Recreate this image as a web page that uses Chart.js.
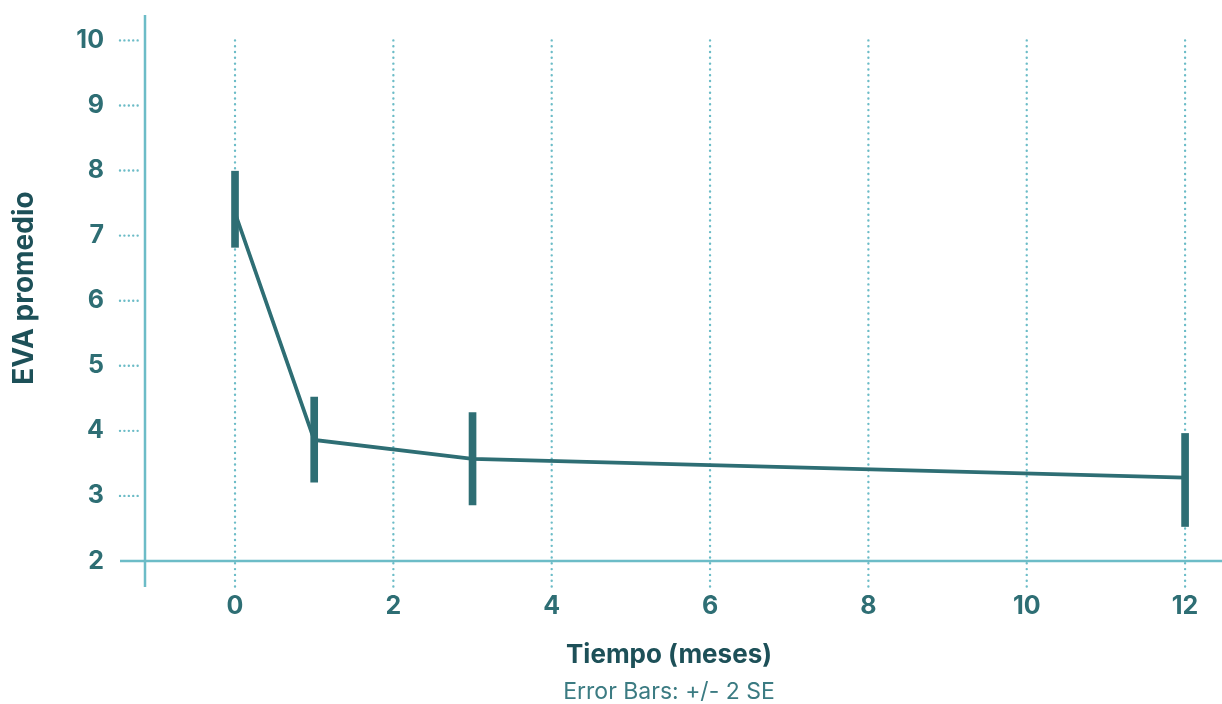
<!DOCTYPE html>
<html>
<head>
<meta charset="utf-8">
<script src="https://cdn.jsdelivr.net/npm/chart.js@4"></script>
<style>
  html, body { margin: 0; padding: 0; background: #fff; }
  #wrap { width: 1222px; height: 704px; position: relative; }
</style>
</head>
<body>
<div id="wrap"><canvas id="chart"></canvas></div>
<script>
// months after treatment and mean EVA score with +/- 2 SE limits
const months = [0, 1, 3, 12];
const evaMean = [7.35, 3.86, 3.57, 3.28];
const evaLow = [6.82, 3.21, 2.86, 2.53];
const evaHigh = [7.99, 4.52, 4.28, 3.96];

const xTicks = [0, 2, 4, 6, 8, 10, 12];
const yTicks = [2, 3, 4, 5, 6, 7, 8, 9, 10];

const DARK = '#2e6e74';
const LIGHT = '#6cbcc7';
const TITLE = '#1d5058';
const FONT = 'Inter, Roboto, sans-serif';

Chart.defaults.font.family = FONT;

// dotted grid, axis lines and caption
const axisDecor = {
    id: 'axisDecor',
    beforeDatasetsDraw(chart) {
        const ctx = chart.ctx;
        const x = chart.scales.x;
        const y = chart.scales.y;
        const area = chart.chartArea;
        const yBase = y.getPixelForValue(2);
        const yTop = y.getPixelForValue(10);
        const below = area.bottom + 26;
        const tickStart = area.left - 25;

        ctx.save();
        ctx.strokeStyle = LIGHT;
        ctx.lineWidth = 2.4;
        ctx.lineCap = 'round';
        ctx.setLineDash([0.01, 5.8]);
        xTicks.forEach(v => {
            const px = x.getPixelForValue(v);
            ctx.beginPath();
            ctx.moveTo(px, yTop);
            ctx.lineTo(px, below);
            ctx.stroke();
        });
        ctx.setLineDash([0.01, 4.4]);
        yTicks.slice(1).forEach(v => {
            const py = y.getPixelForValue(v);
            ctx.beginPath();
            ctx.moveTo(tickStart, py);
            ctx.lineTo(area.left - 3, py);
            ctx.stroke();
        });

        ctx.setLineDash([]);
        ctx.lineCap = 'butt';
        ctx.lineWidth = 2.5;
        ctx.beginPath();
        ctx.moveTo(area.left, area.top);
        ctx.lineTo(area.left, below);
        ctx.moveTo(tickStart, yBase);
        ctx.lineTo(chart.width, yBase);
        ctx.stroke();
        ctx.restore();
    },
    afterDraw(chart) {
        const ctx = chart.ctx;
        const area = chart.chartArea;
        ctx.save();
        ctx.fillStyle = '#3b7b82';
        ctx.font = '23px ' + FONT;
        ctx.textAlign = 'center';
        ctx.textBaseline = 'middle';
        ctx.fillText('Error Bars: +/- 2 SE', (area.left + area.right) / 2, 692);
        ctx.restore();
    }
};

new Chart(document.getElementById('chart'), {
    type: 'line',
    data: {
        datasets: [
            {
                type: 'line',
                data: months.map((m, i) => ({ x: m, y: evaMean[i] })),
                borderColor: DARK,
                borderWidth: 3.7,
                pointRadius: 0,
                tension: 0,
                order: 2
            },
            {
                type: 'bar',
                data: months.map((m, i) => ({ x: m, y: [evaLow[i], evaHigh[i]] })),
                backgroundColor: DARK,
                borderWidth: 0,
                barThickness: 7,
                order: 1
            }
        ]
    },
    options: {
        responsive: true,
        maintainAspectRatio: false,
        animation: false,
        layout: { padding: { top: 12, right: 29, left: 0, bottom: 0 } },
        plugins: {
            legend: { display: false },
            tooltip: { enabled: false }
        },
        scales: {
            x: {
                type: 'linear',
                min: -1.137,
                max: 12.1,
                offset: false,
                grid: { display: true, drawOnChartArea: false, drawTicks: true, tickLength: 30, tickColor: 'rgba(0,0,0,0)' },
                border: { display: false },
                afterBuildTicks: s => { s.ticks = xTicks.map(v => ({ value: v })); },
                afterFit: s => { s.height = 143; },
                ticks: {
                    color: DARK,
                    padding: 0,
                    maxRotation: 0,
                    font: { size: 25, weight: 'bold' }
                },
                title: {
                    display: true,
                    text: 'Tiempo (meses)',
                    color: TITLE,
                    font: { size: 26, weight: 'bold' },
                    padding: { top: 0, bottom: 33 }
                }
            },
            y: {
                min: 2,
                max: 10.39,
                grid: { display: true, drawOnChartArea: false, drawTicks: true, tickLength: 41, tickColor: 'rgba(0,0,0,0)' },
                border: { display: false },
                afterBuildTicks: s => { s.ticks = yTicks.map(v => ({ value: v })); },
                afterFit: s => { s.width = 145; },
                ticks: {
                    color: DARK,
                    padding: 0,
                    font: { size: 25, weight: 'bold' }
                },
                title: {
                    display: true,
                    text: 'EVA promedio',
                    color: TITLE,
                    font: { size: 28, weight: 'bold' },
                    padding: { top: 8, bottom: 0 }
                }
            }
        }
    },
    plugins: [axisDecor]
});
</script>
</body>
</html>
